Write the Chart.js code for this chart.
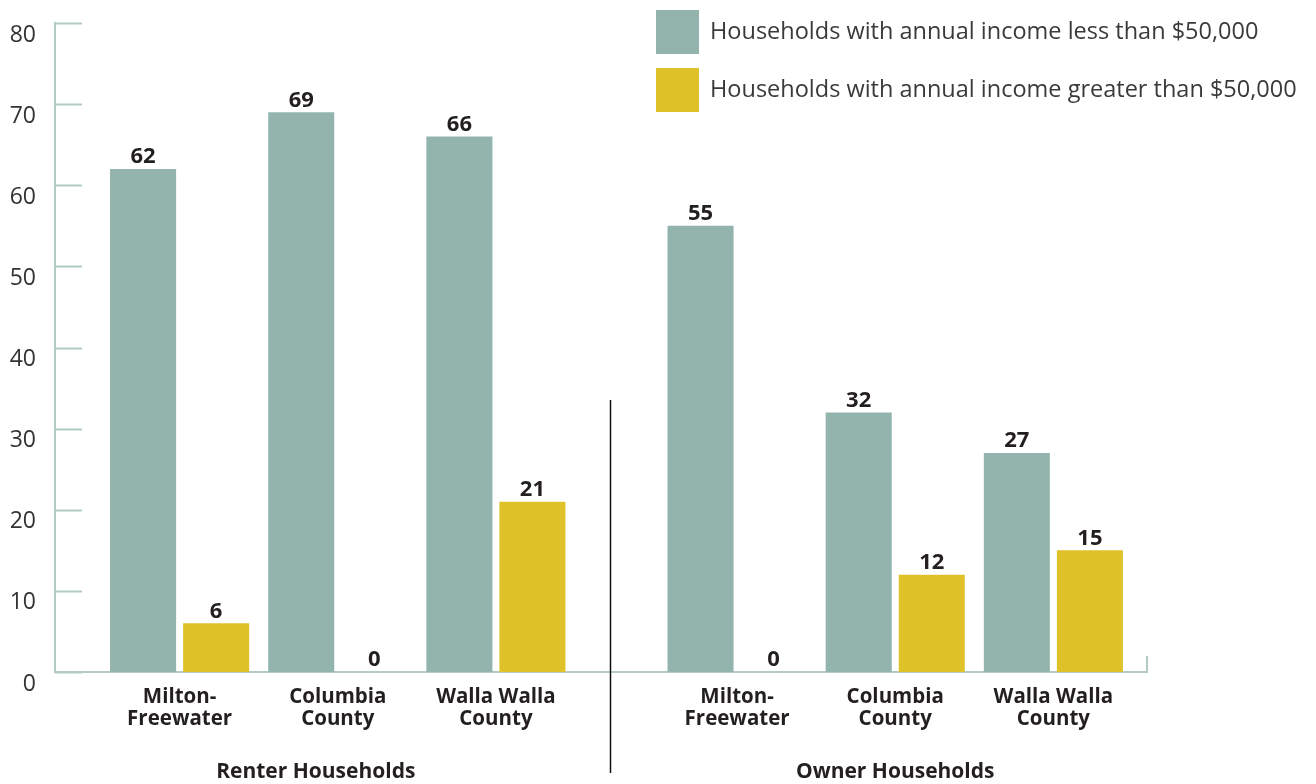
<!DOCTYPE html>
<html lang="en-US">
<head>
  <meta charset="utf-8">
  <title>Households by income</title>
  <script src="https://cdn.jsdelivr.net/npm/chart.js@4/dist/chart.umd.min.js"></script>
  <style>
    html, body { margin: 0; padding: 0; background: #fff; }
    .wrapper { width: 1316px; height: 784px; }
  </style>
</head>
<body>
  <div class="wrapper">
    <canvas id="chart-0" width="1316" height="784"></canvas>
  </div>

  <script>
    // data
    let categories = [
      ['Milton-', 'Freewater'], ['Columbia', 'County'], ['Walla Walla', 'County'],
      ['Milton-', 'Freewater'], ['Columbia', 'County'], ['Walla Walla', 'County']
    ];
    let groups = ['Renter Households', 'Owner Households'];
    let seriesNames = [
      'Households with annual income less than $50,000',
      'Households with annual income greater than $50,000'
    ];
    let lessThan50k = [62, 69, 66, 55, 32, 27];
    let moreThan50k = [6, 0, 21, 0, 12, 15];
    let yTicks = [0, 10, 20, 30, 40, 50, 60, 70, 80];

    let colors = { grey: '#93b4ad', yellow: '#dfc12a', axis: '#b2cbc5', text: '#231f20' };
    let FONT = '"Open Sans", Lato, sans-serif';

    // extra space between the renter and owner groups, in category units
    let groupGap = 0.525;
    let xPos = categories.map((c, i) => i + (i >= 3 ? groupGap : 0));

    function toPoints(values) {
      return values.map((v, i) => ({ x: xPos[i], y: v }));
    }

    let extras = {
      id: 'extras',
      afterDatasetsDraw(chart) {
        let ctx = chart.ctx;
        let x = chart.scales.x, y = chart.scales.y;
        let area = chart.chartArea;
        ctx.save();

        // short tick marks inside the y axis
        ctx.strokeStyle = colors.axis;
        ctx.lineWidth = 2;
        yTicks.forEach(t => {
          let py = Math.round(y.getPixelForValue(t)) + 0.5;
          ctx.beginPath();
          ctx.moveTo(area.left, py);
          ctx.lineTo(area.left + 27, py);
          ctx.stroke();
        });
        // end tick of the x axis
        ctx.beginPath();
        ctx.moveTo(area.right, area.bottom);
        ctx.lineTo(area.right, area.bottom - 16);
        ctx.stroke();

        // value labels
        ctx.fillStyle = colors.text;
        ctx.font = 'bold 22px ' + FONT;
        ctx.textAlign = 'center';
        ctx.textBaseline = 'bottom';
        chart.data.datasets.forEach((ds, di) => {
          chart.getDatasetMeta(di).data.forEach((bar, i) => {
            ctx.fillText(String(ds.data[i].y), bar.x, bar.y - 1);
          });
        });

        // divider between groups
        let mid = (x.getPixelForValue(xPos[2]) + x.getPixelForValue(xPos[3])) / 2 - 6;
        ctx.strokeStyle = '#111';
        ctx.lineWidth = 1.5;
        ctx.beginPath();
        ctx.moveTo(mid, 400);
        ctx.lineTo(mid, 773);
        ctx.stroke();

        // group titles
        ctx.font = 'bold 21px ' + FONT;
        ctx.textBaseline = 'middle';
        let renterMid = (x.getPixelForValue(xPos[0]) + x.getPixelForValue(xPos[2])) / 2 - 22;
        let ownerMid = (x.getPixelForValue(xPos[3]) + x.getPixelForValue(xPos[5])) / 2;
        ctx.fillText(groups[0], renterMid, 772);
        ctx.fillText(groups[1], ownerMid, 772);

        // legend
        ctx.textAlign = 'left';
        ctx.font = '23.5px ' + FONT;
        chart.data.datasets.forEach((ds, di) => {
          let top = 10 + di * 58;
          ctx.fillStyle = ds.backgroundColor;
          ctx.fillRect(656, top, 43, 44);
          ctx.fillStyle = '#3a3a3a';
          ctx.fillText(ds.label, 710, top + 22);
        });

        ctx.restore();
      }
    };

    let chart = new Chart('chart-0', {
      type: 'bar',
      data: {
        datasets: [
          { label: seriesNames[0], data: toPoints(lessThan50k), backgroundColor: colors.grey },
          { label: seriesNames[1], data: toPoints(moreThan50k), backgroundColor: colors.yellow }
        ]
      },
      options: {
        responsive: false,
        animation: false,
        categoryPercentage: 0.924,
        barPercentage: 0.904,
        layout: { padding: { top: 23, right: 169, left: 0, bottom: 0 } },
        plugins: {
          legend: { display: false },
          tooltip: { enabled: false }
        },
        scales: {
          x: {
            type: 'linear',
            offset: false,
            min: -0.788,
            max: 6.117,
            grid: { display: false, drawTicks: false, offset: false },
            border: { display: true, color: colors.axis, width: 2 },
            afterBuildTicks: axis => { axis.ticks = xPos.map(v => ({ value: v })); },
            afterFit: axis => { axis.height = 112; axis.paddingLeft = 0; axis.paddingRight = 0; },
            ticks: {
              autoSkip: false,
              maxRotation: 0,
              padding: 14,
              color: colors.text,
              font: { family: FONT, size: 20.5, weight: 'bold', lineHeight: 1.07 },
              callback: (value, index) => categories[index]
            }
          },
          y: {
            min: 0,
            max: 80,
            grid: { display: false, drawTicks: false },
            border: { display: true, color: colors.axis, width: 2 },
            afterBuildTicks: axis => { axis.ticks = yTicks.map(v => ({ value: v })); },
            afterFit: axis => { axis.width = 55; axis.paddingTop = 0; axis.paddingBottom = 0; },
            ticks: {
              padding: 19,
              labelOffset: 12,
              color: '#333',
              font: { family: FONT, size: 23 }
            }
          }
        }
      },
      plugins: [extras]
    });
  </script>
</body>
</html>
